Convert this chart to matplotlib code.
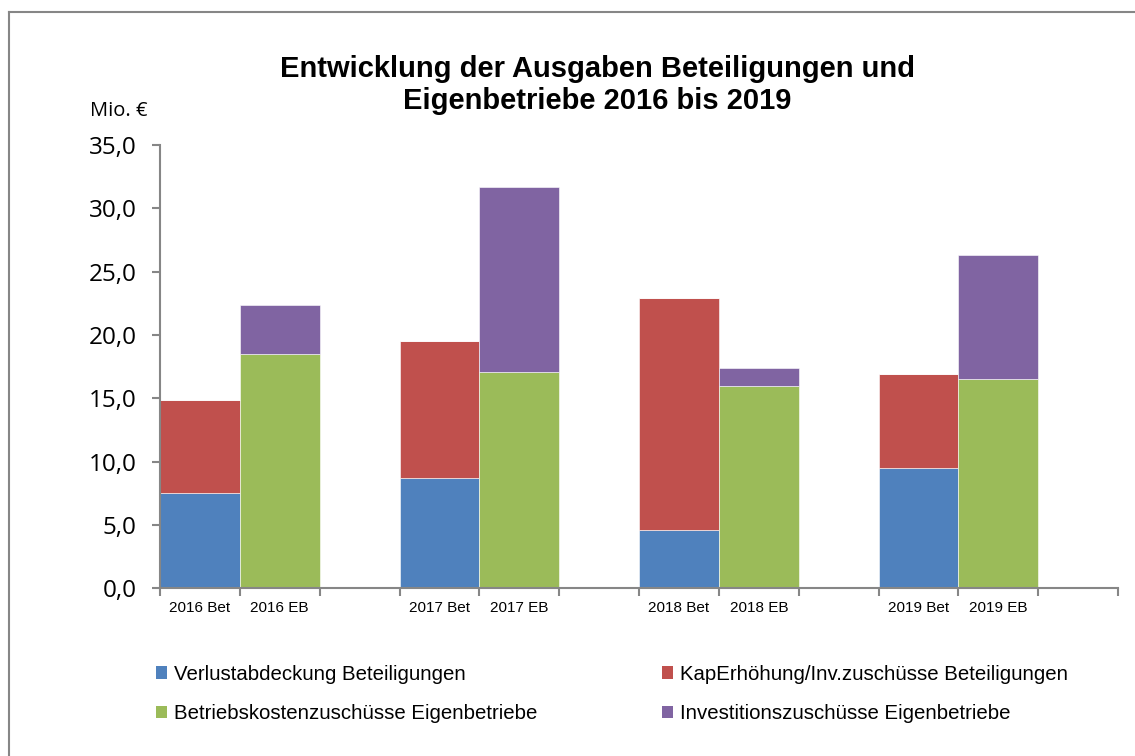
import matplotlib.pyplot as plt
from matplotlib.lines import Line2D
from matplotlib.patches import Patch

# categories (empty slots are the gaps between years)
categories = ['2016 Bet', '2016 EB', '', '2017 Bet', '2017 EB', '',
              '2018 Bet', '2018 EB', '', '2019 Bet', '2019 EB', '']

verlust = [7.5, 0, 0, 8.7, 0, 0, 4.6, 0, 0, 9.5, 0, 0]
kap_erh = [7.4, 0, 0, 10.8, 0, 0, 18.3, 0, 0, 7.4, 0, 0]
betriebskosten = [0, 18.5, 0, 0, 17.1, 0, 0, 16.0, 0, 0, 16.5, 0]
investition = [0, 3.9, 0, 0, 14.6, 0, 0, 1.4, 0, 0, 9.8, 0]

series_names = ['Verlustabdeckung Beteiligungen',
                'KapErhöhung/Inv.zuschüsse Beteiligungen',
                'Betriebskostenzuschüsse Eigenbetriebe',
                'Investitionszuschüsse Eigenbetriebe']
colors = ['#4F81BD', '#C0504D', '#9BBB59', '#8064A2']

yticks = [0, 5, 10, 15, 20, 25, 30, 35]

fig = plt.figure(figsize=(11.35, 7.56), dpi=100)
ax = fig.add_axes([160 / 1135, 167.7 / 756, 958 / 1135, 443.3 / 756])

x = list(range(len(categories)))
bottom = [0] * len(categories)
for vals, col in zip([verlust, kap_erh, betriebskosten, investition], colors):
    ax.bar(x, vals, width=1.0, bottom=bottom, color=col,
           edgecolor='white', linewidth=0.4)
    bottom = [b + v for b, v in zip(bottom, vals)]

ax.set_xlim(-0.5, len(categories) - 0.5)
ax.set_ylim(0, 35)

gray = '#868686'
for s in ['top', 'right']:
    ax.spines[s].set_visible(False)
for s in ['left', 'bottom']:
    ax.spines[s].set_color(gray)
    ax.spines[s].set_linewidth(1.5)

ax.set_yticks(yticks)
ax.set_yticklabels([f'{v:.1f}'.replace('.', ',') for v in yticks],
                   fontsize=17.5, family=['Open Sans', 'DejaVu Sans'])
ax.tick_params(axis='y', length=6, width=1.5, color=gray, pad=11)

# ticks between categories, labels centred on bars
ax.set_xticks([i - 0.5 for i in range(len(categories) + 1)])
ax.set_xticklabels([])
ax.set_xticks(x, minor=True)
ax.set_xticklabels(categories, minor=True, fontsize=11,
                   family=['Liberation Sans', 'DejaVu Sans'])
ax.tick_params(axis='x', which='major', length=6, width=1.5, color=gray)
ax.tick_params(axis='x', which='minor', length=0, pad=9)

fig.text(597 / 1135, 1 - 85 / 756,
         'Entwicklung der Ausgaben Beteiligungen und\nEigenbetriebe 2016 bis 2019',
         ha='center', va='center', fontsize=21, fontweight='bold',
         family=['Liberation Sans', 'DejaVu Sans'], linespacing=1.17)
fig.text(90 / 1135, 1 - 111 / 756, 'Mio. €', ha='left', va='center',
         fontsize=14.5, family=['Open Sans', 'DejaVu Sans'])

# legend in two columns, row-wise order as in the reference
leg_font = {'family': ['Liberation Sans', 'DejaVu Sans'], 'size': 14.7}
leg_kw = dict(loc='center left', frameon=False, prop=leg_font, borderpad=0,
              handlelength=0.55, handleheight=0.55, handletextpad=0.3,
              labelspacing=1.0)
h = [Patch(facecolor=c, edgecolor='none') for c in colors]
fig.legend([h[0], h[2]], [series_names[0], series_names[2]],
           bbox_to_anchor=(146 / 1135, 1 - 694 / 756), **leg_kw)
fig.legend([h[1], h[3]], [series_names[1], series_names[3]],
           bbox_to_anchor=(652 / 1135, 1 - 694 / 756), **leg_kw)

# chart frame (only top and left edges are visible in the crop)
fig.add_artist(Line2D([9 / 1135, 9 / 1135], [0, 1 - 12 / 756], color=gray, lw=1.5))
fig.add_artist(Line2D([9 / 1135, 1], [1 - 12 / 756, 1 - 12 / 756], color=gray, lw=1.5))

fig.savefig('out.png', dpi=100)
